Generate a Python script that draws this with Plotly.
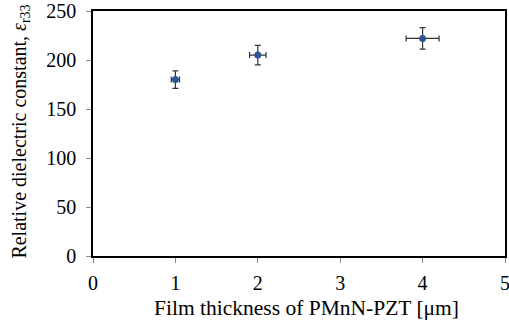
import plotly.graph_objects as go

thickness = [1, 2, 4]
epsilon = [180, 205, 222]
x_err = [0.05, 0.1, 0.2]
y_err = [9, 10, 11]

x_ticks = [0, 1, 2, 3, 4, 5]
y_ticks = [0, 50, 100, 150, 200, 250]

x_title = "Film thickness of PMnN-PZT [μm]"
y_title = "Relative dielectric constant, <i>ε</i><sub>r33</sub>"

fig = go.Figure(go.Scatter(
    x=thickness, y=epsilon, mode="markers",
    marker=dict(color="#2F5597", size=7),
    error_x=dict(type="data", array=x_err, color="#333333", thickness=1.2, width=3),
    error_y=dict(type="data", array=y_err, color="#333333", thickness=1.2, width=3),
))

font = dict(family="Liberation Serif, Times New Roman, serif", size=20, color="black")
fig.update_layout(
    width=509, height=324,
    margin=dict(l=93, r=4, t=11, b=68, autoexpand=False),
    plot_bgcolor="white", paper_bgcolor="white",
    showlegend=False, font=font,
)
fig.update_xaxes(
    range=[0, 5], tickvals=x_ticks, showgrid=False, zeroline=False,
    showline=True, linecolor="black", linewidth=1.5, mirror=True,
    ticks="outside", ticklen=5, tickcolor="#888888", ticklabelstandoff=3,
    tickfont=dict(size=20), automargin=False, ticklabeloverflow="allow",
)
fig.update_yaxes(
    range=[0, 250], tickvals=y_ticks, showgrid=False, zeroline=False,
    showline=True, linecolor="black", linewidth=1.5, mirror=True,
    ticks="outside", ticklen=5, tickcolor="#888888", ticklabelstandoff=6,
    tickfont=dict(size=20), automargin=False, ticklabeloverflow="allow",
)
fig.add_annotation(
    text=x_title, xref="paper", yref="paper", x=0.519, y=-0.155,
    xanchor="center", yanchor="top", showarrow=False, font=dict(size=21.5),
)
fig.add_annotation(
    text=y_title, xref="paper", yref="paper", x=-0.177, y=0.508,
    xanchor="center", yanchor="middle", textangle=-90, showarrow=False, font=dict(size=20),
)
fig.write_html("out.html")
